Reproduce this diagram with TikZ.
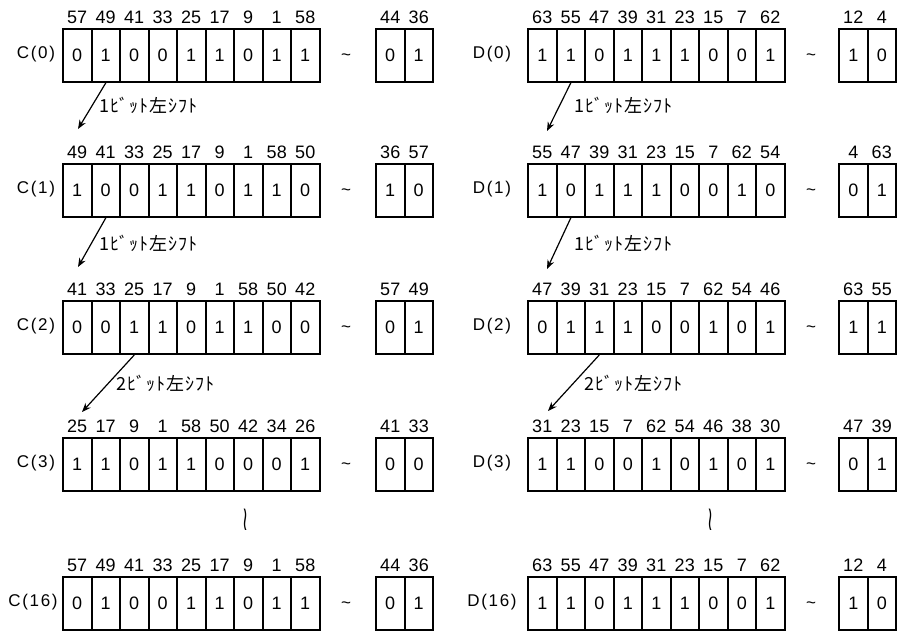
\documentclass[tikz,border=0pt]{standalone}
\usepackage{fontspec}
\setmainfont{Liberation Sans}
\newfontfamily\jpfont[LetterSpace=5]{Noto Sans CJK JP}
\newfontfamily\symfont{DejaVu Sans}
\newfontfamily\rowfont[LetterSpace=10]{Liberation Sans}
\usetikzlibrary{arrows.meta}

\newcommand\regrow[5]{% #1 name, #2 x start, #3 y top, #4 list label/bit, #5 suffix
  \foreach \l/\b [count=\i] in {#4} {
    \node[cell] (#1#5\i) at ({#2+(\i-1)*28.5},#3) {\b};
    \node[bitlabel] (#1#5l\i) at (#1#5\i.north) {\l};
  }
}

\begin{document}
\begin{tikzpicture}[x=1pt,y=-1pt,
  cell/.style={draw,line width=2pt,minimum width=28.5pt,minimum height=53pt,
    inner sep=0pt,anchor=north west,font=\fontsize{18}{18}\selectfont},
  bitlabel/.style={font=\fontsize{18}{18}\selectfont,inner sep=0pt,anchor=base,yshift=4.8pt},
  rowlabel/.style={font=\rowfont\fontsize{17}{17}\selectfont,inner sep=0pt},
  shiftarrow/.style={-{Stealth[length=9pt,width=7pt]},line width=1.2pt},
  shiftlabel/.style={font=\jpfont\fontsize{18}{18}\selectfont,anchor=west,inner sep=0pt},
  tildemark/.style={font=\fontsize{17}{17}\selectfont,inner sep=0pt},
  wavemark/.style={font=\symfont\fontsize{18}{18}\selectfont,inner sep=0pt},
]
\useasboundingbox (0,0) rectangle (897,630);

% ---------- C side ----------
\regrow{C0}{62}{28}{57/0,49/1,41/0,33/0,25/1,17/1,9/0,1/1,58/1}{-}
\regrow{C0}{375}{28}{44/0,36/1}{-r}
\node[rowlabel] (C0name) at (36,54.5) {C(0)};
\node[tildemark] (C0t) at (346,57) {\textasciitilde};

\regrow{C1}{62}{163}{49/1,41/0,33/0,25/1,17/1,9/0,1/1,58/1,50/0}{-}
\regrow{C1}{375}{163}{36/1,57/0}{-r}
\node[rowlabel] (C1name) at (36,189.5) {C(1)};
\node[tildemark] (C1t) at (346,192) {\textasciitilde};

\regrow{C2}{62}{300}{41/0,33/0,25/1,17/1,9/0,1/1,58/1,50/0,42/0}{-}
\regrow{C2}{375}{300}{57/0,49/1}{-r}
\node[rowlabel] (C2name) at (36,326.5) {C(2)};
\node[tildemark] (C2t) at (346,329) {\textasciitilde};

\regrow{C3}{62}{437}{25/1,17/1,9/0,1/1,58/1,50/0,42/0,34/0,26/1}{-}
\regrow{C3}{375}{437}{41/0,33/0}{-r}
\node[rowlabel] (C3name) at (36,463.5) {C(3)};
\node[tildemark] (C3t) at (346,466) {\textasciitilde};

\node[wavemark] (Cwave) at (246,520) {\scalebox{0.9}[1.9]{≀}};

\regrow{C16}{62}{576}{57/0,49/1,41/0,33/0,25/1,17/1,9/0,1/1,58/1}{-}
\regrow{C16}{375}{576}{44/0,36/1}{-r}
\node[rowlabel] (C16name) at (33,602.5) {C(16)};
\node[tildemark] (C16t) at (346,605) {\textasciitilde};

% ---------- D side ----------
\regrow{D0}{527}{28}{63/1,55/1,47/0,39/1,31/1,23/1,15/0,7/0,62/1}{-}
\regrow{D0}{838}{28}{12/1,4/0}{-r}
\node[rowlabel] (D0name) at (492,54.5) {D(0)};
\node[tildemark] (D0t) at (811,57) {\textasciitilde};

\regrow{D1}{527}{163}{55/1,47/0,39/1,31/1,23/1,15/0,7/0,62/1,54/0}{-}
\regrow{D1}{838}{163}{4/0,63/1}{-r}
\node[rowlabel] (D1name) at (492,189.5) {D(1)};
\node[tildemark] (D1t) at (811,192) {\textasciitilde};

\regrow{D2}{527}{300}{47/0,39/1,31/1,23/1,15/0,7/0,62/1,54/0,46/1}{-}
\regrow{D2}{838}{300}{63/1,55/1}{-r}
\node[rowlabel] (D2name) at (492,326.5) {D(2)};
\node[tildemark] (D2t) at (811,329) {\textasciitilde};

\regrow{D3}{527}{437}{31/1,23/1,15/0,7/0,62/1,54/0,46/1,38/0,30/1}{-}
\regrow{D3}{838}{437}{47/0,39/1}{-r}
\node[rowlabel] (D3name) at (492,463.5) {D(3)};
\node[tildemark] (D3t) at (811,466) {\textasciitilde};

\node[wavemark] (Dwave) at (711,520) {\scalebox{0.9}[1.9]{≀}};

\regrow{D16}{527}{576}{63/1,55/1,47/0,39/1,31/1,23/1,15/0,7/0,62/1}{-}
\regrow{D16}{838}{576}{12/1,4/0}{-r}
\node[rowlabel] (D16name) at (492,602.5) {D(16)};
\node[tildemark] (D16t) at (811,605) {\textasciitilde};

% ---------- shift arrows ----------
\coordinate (Ca1) at (78,129);
\draw[shiftarrow] (C0-2.south) -- (Ca1);
\node[shiftlabel] (Cs1) at (99,105) {1ﾋﾞｯﾄ左ｼﾌﾄ};

\coordinate (Ca2) at (78,267);
\draw[shiftarrow] (C1-2.south) -- (Ca2);
\node[shiftlabel] (Cs2) at (99,243) {1ﾋﾞｯﾄ左ｼﾌﾄ};

\coordinate (Ca3) at (82,412);
\draw[shiftarrow] (C2-3.south) -- (Ca3);
\node[shiftlabel] (Cs3) at (116,383) {2ﾋﾞｯﾄ左ｼﾌﾄ};

\coordinate (Da1) at (547,131);
\draw[shiftarrow] (D0-2.south) -- (Da1);
\node[shiftlabel] (Ds1) at (574,105) {1ﾋﾞｯﾄ左ｼﾌﾄ};

\coordinate (Da2) at (547,269);
\draw[shiftarrow] (D1-2.south) -- (Da2);
\node[shiftlabel] (Ds2) at (574,243) {1ﾋﾞｯﾄ左ｼﾌﾄ};

\coordinate (Da3) at (548,411);
\draw[shiftarrow] (D2-3.south) -- (Da3);
\node[shiftlabel] (Ds3) at (584,383) {2ﾋﾞｯﾄ左ｼﾌﾄ};
\end{tikzpicture}
\end{document}
